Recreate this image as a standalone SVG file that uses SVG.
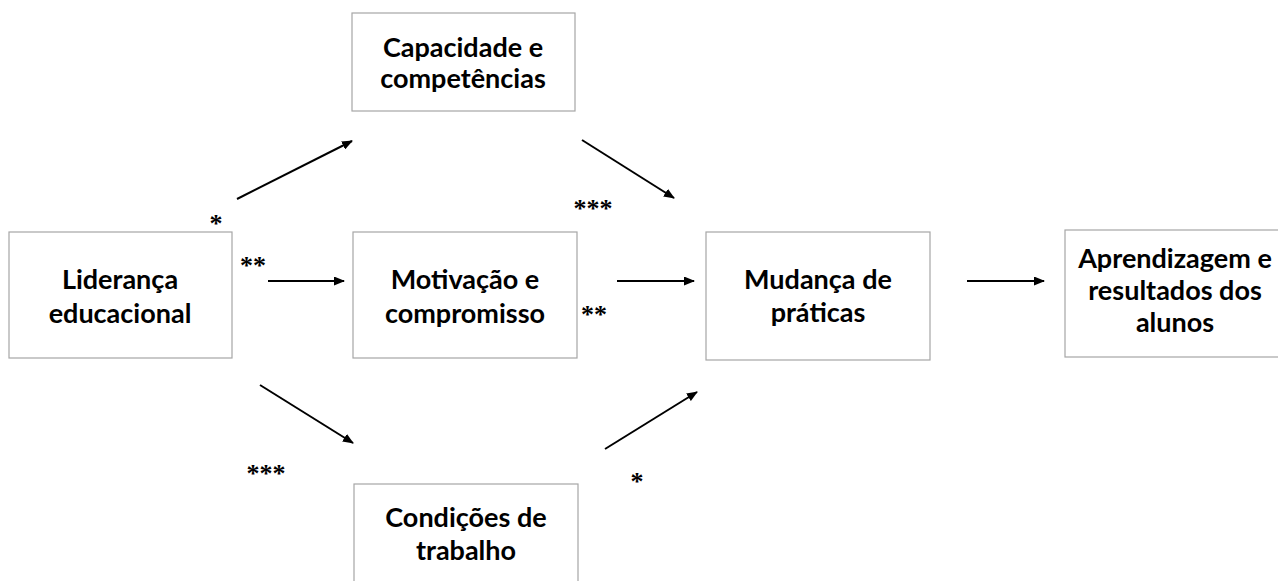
<svg xmlns="http://www.w3.org/2000/svg" width="1278" height="581" viewBox="0 0 1278 581">
<style>
.box{fill:#fff;stroke:#a6a6a6;stroke-width:1.2}
.lbl{font-family:Lato,"Open Sans","Liberation Sans",sans-serif;font-weight:bold;font-size:27px;fill:#000;text-anchor:middle}
.star{font-family:"Liberation Serif","Times New Roman",serif;font-weight:bold;font-size:26px;fill:#000;text-anchor:middle}
.arr{stroke:#000;stroke-width:2;fill:none;marker-end:url(#ah)}
</style>
<defs>
<marker id="ah" markerWidth="11" markerHeight="9" refX="10" refY="4.5" orient="auto" markerUnits="userSpaceOnUse">
<path d="M0,0 L11,4.5 L0,9 z" fill="#000"/>
</marker>
</defs>
<rect width="1278" height="581" fill="#fff"/>
<g id="connectors">
<line class="arr" x1="237" y1="199" x2="352" y2="141"/>
<line class="arr" x1="268" y1="281" x2="344" y2="281"/>
<line class="arr" x1="260" y1="385" x2="353" y2="443"/>
<line class="arr" x1="582" y1="140" x2="674" y2="198"/>
<line class="arr" x1="617" y1="281" x2="694" y2="281"/>
<line class="arr" x1="605" y1="449" x2="697" y2="392"/>
<line class="arr" x1="967" y1="281" x2="1044" y2="281"/>
</g>
<g id="stars">
<text class="star" x="216" y="232">*</text>
<text class="star" x="253" y="274">**</text>
<text class="star" x="593" y="217">***</text>
<text class="star" x="594" y="323">**</text>
<text class="star" x="266" y="482">***</text>
<text class="star" x="637" y="490">*</text>
</g>
<g id="lideranca">
<rect class="box" x="9" y="232" width="223" height="126"/>
<text class="lbl" x="120" y="289">Liderança</text>
<text class="lbl" x="120" y="323">educacional</text>
</g>
<g id="capacidade">
<rect class="box" x="352" y="13" width="223" height="98"/>
<text class="lbl" x="463" y="57">Capacidade e</text>
<text class="lbl" x="463" y="88">competências</text>
</g>
<g id="motivacao">
<rect class="box" x="353" y="232" width="224" height="126"/>
<text class="lbl" x="465" y="289">Motivação e</text>
<text class="lbl" x="465" y="323">compromisso</text>
</g>
<g id="mudanca">
<rect class="box" x="706" y="232" width="224" height="128"/>
<text class="lbl" x="818" y="289">Mudança de</text>
<text class="lbl" x="818" y="322">práticas</text>
</g>
<g id="aprendizagem">
<rect class="box" x="1065" y="230" width="220" height="127"/>
<text class="lbl" x="1175" y="268">Aprendizagem e</text>
<text class="lbl" x="1175" y="300">resultados dos</text>
<text class="lbl" x="1175" y="332">alunos</text>
</g>
<g id="condicoes">
<rect class="box" x="354" y="484" width="224" height="110"/>
<text class="lbl" x="466" y="527">Condições de</text>
<text class="lbl" x="466" y="560">trabalho</text>
</g>
</svg>
